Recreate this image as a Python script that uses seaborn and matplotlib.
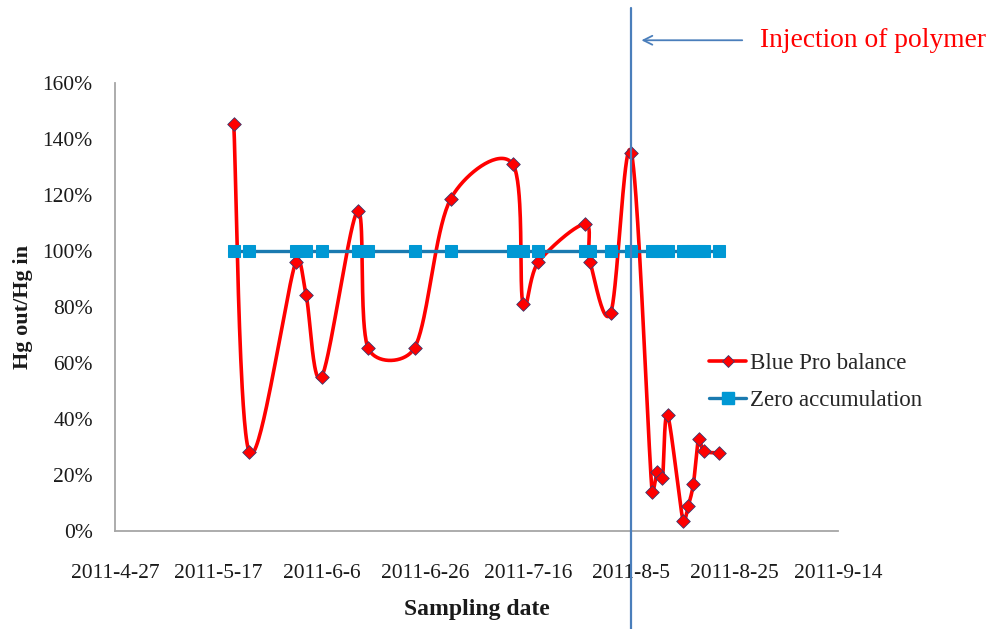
import numpy as np
import pandas as pd
import matplotlib
matplotlib.use("Agg")
import matplotlib.pyplot as plt
import matplotlib.dates as mdates
from matplotlib.ticker import PercentFormatter, FixedLocator
from matplotlib.lines import Line2D
import seaborn as sns

# Sampling dates and mercury balance (Hg out / Hg in, in %)
sample_dates = [
    "2011-05-20", "2011-05-23", "2011-06-01", "2011-06-03", "2011-06-06",
    "2011-06-13", "2011-06-15", "2011-06-24", "2011-07-01", "2011-07-13",
    "2011-07-15", "2011-07-18", "2011-07-27", "2011-07-28", "2011-08-01",
    "2011-08-05", "2011-08-09", "2011-08-10", "2011-08-11", "2011-08-12",
    "2011-08-15", "2011-08-16", "2011-08-17", "2011-08-18", "2011-08-19",
    "2011-08-22",
]
blue_pro_balance = [
    145.5, 28.2, 96.1, 84.3, 55.0,
    114.3, 65.4, 65.4, 118.6, 131.1,
    81.1, 96.1, 109.6, 96.1, 77.9,
    135.0, 13.9, 21.1, 18.9, 41.4,
    3.6, 8.9, 16.8, 32.9, 28.6,
    27.9,
]
zero_accumulation = [
    100, 100, 100, 100, 100,
    100, 100, 100, 100, 100,
    100, 100, 100, 100, 100,
    100, 100, 100, 100, 100,
    100, 100, 100, 100, 100,
    100,
]
series_names = ["Blue Pro balance", "Zero accumulation"]

tick_dates = ["2011-04-27", "2011-05-17", "2011-06-06", "2011-06-26",
              "2011-07-16", "2011-08-05", "2011-08-25", "2011-09-14"]
tick_labels = ["2011-4-27", "2011-5-17", "2011-6-6", "2011-6-26",
               "2011-7-16", "2011-8-5", "2011-8-25", "2011-9-14"]
y_ticks = [0, 20, 40, 60, 80, 100, 120, 140, 160]
injection_date = "2011-08-05"
injection_label = "Injection of polymer"

RED = "#ff0000"
BLUE_LINE = "#1a7ab0"
BLUE_MARK = "#0098d4"
STEEL = "#4a7ebb"
SPINE = "#a6a6a6"

sns.set_theme(style="white")
plt.rcParams["font.family"] = ["Liberation Serif", "DejaVu Serif"]

df = pd.DataFrame({
    "date": pd.to_datetime(sample_dates),
    "balance": blue_pro_balance,
    "zero": zero_accumulation,
})
df["x"] = mdates.date2num(df["date"])

fig = plt.figure(figsize=(9.93, 6.29), dpi=100)
ax = fig.add_axes([0.1158, 0.1558, 0.7281, 0.7122])

xticks = mdates.date2num(pd.to_datetime(tick_dates))
ax.set_xlim(xticks[0], xticks[-1])
ax.set_ylim(y_ticks[0], y_ticks[-1])


def smooth_curve(axes, xs, ys, n=40, cap=0.4):
    """Cubic Bezier smoothing through the points, computed in screen space.
    Control handles are limited to a share of the segment length so short
    segments do not overshoot."""
    pts = axes.transData.transform(np.column_stack([xs, ys]))
    P = np.vstack([pts[0], pts, pts[-1]])
    t = np.linspace(0, 1, n)[:, None]
    pieces = []
    for i in range(1, len(P) - 2):
        p0, p1, p2, p3 = P[i - 1], P[i], P[i + 1], P[i + 2]
        seg_len = np.linalg.norm(p2 - p1)
        h1 = (p2 - p0) / 6.0
        h2 = (p3 - p1) / 6.0
        for h in (h1, h2):
            ln = np.linalg.norm(h)
            if ln > cap * seg_len and ln > 0:
                h *= cap * seg_len / ln
        c1 = p1 + h1
        c2 = p2 - h2
        seg = ((1 - t) ** 3) * p1 + 3 * ((1 - t) ** 2) * t * c1 \
            + 3 * (1 - t) * t ** 2 * c2 + t ** 3 * p2
        pieces.append(seg if i == 1 else seg[1:])
    curve = np.vstack(pieces)
    return axes.transData.inverted().transform(curve)


curve = smooth_curve(ax, df["x"].values, df["balance"].values)
curve_df = pd.DataFrame({"x": curve[:, 0], "y": curve[:, 1]})

# Smoothed red balance line with diamond markers
sns.lineplot(data=curve_df, x="x", y="y", sort=False, estimator=None,
             color=RED, linewidth=2.6, ax=ax, zorder=3)
sns.scatterplot(data=df, x="x", y="balance", marker="D", s=48,
                color=RED, edgecolor="#3a3a70", linewidth=0.6, ax=ax, zorder=4)

# Zero accumulation reference series
sns.lineplot(data=df, x="x", y="zero", sort=False, estimator=None,
             color=BLUE_LINE, linewidth=2.4, marker="s", markersize=8.5,
             markerfacecolor=BLUE_MARK, markeredgecolor=BLUE_MARK,
             ax=ax, zorder=5)

# Axis styling
ax.xaxis.set_major_locator(FixedLocator(xticks))
ax.set_xticklabels(tick_labels)
ax.yaxis.set_major_locator(FixedLocator(y_ticks))
ax.yaxis.set_major_formatter(PercentFormatter(decimals=0))
ax.tick_params(axis="both", length=0, labelsize=15.5, colors="#1a1a1a")
ax.tick_params(axis="x", pad=24)
ax.tick_params(axis="y", pad=16)
for side in ["top", "right"]:
    ax.spines[side].set_visible(False)
for side in ["left", "bottom"]:
    ax.spines[side].set_color(SPINE)
    ax.spines[side].set_linewidth(1.3)
ax.grid(False)

ax.set_xlabel("Sampling date", fontsize=17, fontweight="bold",
              color="#1a1a1a", labelpad=11)
ax.set_ylabel("Hg out/Hg in", fontsize=16, fontweight="bold",
              color="#1a1a1a", labelpad=7)

# Polymer injection marker
inj = mdates.date2num(pd.Timestamp(injection_date))
ax.axvline(inj, ymin=-0.22, ymax=1.167, color=STEEL, linewidth=1.6,
           clip_on=False, zorder=6)
ax.annotate("", xy=(inj + 1.4, 0.936), xycoords=("data", "figure fraction"),
            xytext=(745 / 993, 0.936), textcoords="figure fraction",
            arrowprops=dict(arrowstyle="->", color=STEEL, lw=1.3,
                            mutation_scale=16))
fig.text(760 / 993, 0.936, injection_label, color=RED, fontsize=19.8,
         ha="left", va="center")

# Legend
handles = [
    Line2D([], [], color=RED, linewidth=2.6, marker="D", markersize=6.5,
           markerfacecolor=RED, markeredgecolor="#3a3a70", markeredgewidth=0.6),
    Line2D([], [], color=BLUE_LINE, linewidth=2.4, marker="s", markersize=8,
           markerfacecolor=BLUE_MARK, markeredgecolor=BLUE_MARK),
]
fig.legend(handles, series_names, loc="upper left",
           bbox_to_anchor=(700 / 993, 1 - 344 / 629), frameon=False,
           fontsize=16.5, handlelength=1.6, handletextpad=0.2,
           labelspacing=0.7, borderaxespad=0)

fig.savefig("out.png", dpi=100)
